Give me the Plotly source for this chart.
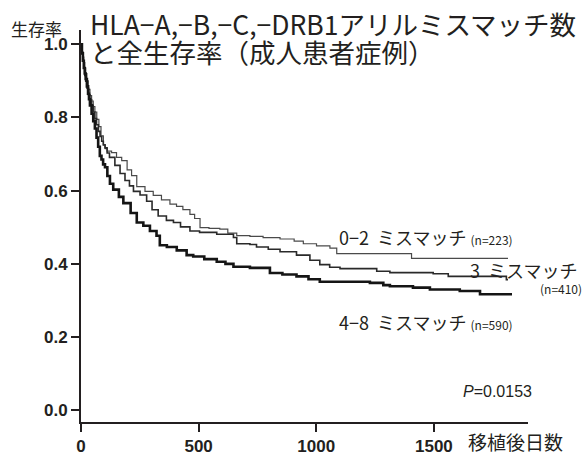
import plotly.graph_objects as go

# ---- data ----
days_02 = [0, 4, 8, 12, 16, 20, 25, 31, 38, 45, 52, 59, 67, 76, 85, 95, 103, 111, 130, 151, 173,
           196, 215, 237, 272, 307, 342, 378, 406, 433, 463, 483, 506, 544, 590, 624, 662, 718,
           774, 846, 906, 945, 1001, 1058, 1087, 1405, 1815]
surv_02 = [1.0, 0.98, 0.965, 0.95, 0.935, 0.92, 0.9, 0.877, 0.86, 0.845, 0.83, 0.815, 0.795, 0.775,
           0.75, 0.726, 0.715, 0.708, 0.704, 0.691, 0.682, 0.657, 0.641, 0.611, 0.598, 0.587, 0.575,
           0.563, 0.557, 0.548, 0.535, 0.524, 0.499, 0.497, 0.495, 0.484, 0.477, 0.475, 0.472,
           0.468, 0.462, 0.455, 0.449, 0.443, 0.428, 0.415, 0.415]

days_3 = [0, 4, 8, 12, 16, 20, 26, 32, 38, 45, 52, 59, 66, 74, 81, 88, 95, 102, 111, 121, 144,
          166, 187, 206, 223, 251, 279, 302, 328, 363, 393, 423, 463, 504, 577, 648, 662, 718,
          746, 796, 846, 916, 973, 1015, 1057, 1101, 1257, 1313, 1497, 1561, 1808, 1815]
surv_3 = [1.0, 0.975, 0.955, 0.935, 0.915, 0.899, 0.88, 0.862, 0.848, 0.833, 0.815, 0.797, 0.78,
          0.762, 0.748, 0.735, 0.725, 0.717, 0.703, 0.691, 0.669, 0.647, 0.628, 0.613, 0.598,
          0.588, 0.571, 0.548, 0.531, 0.519, 0.513, 0.501, 0.490, 0.486, 0.481, 0.472, 0.455,
          0.453, 0.446, 0.440, 0.433, 0.424, 0.410, 0.398, 0.391, 0.387, 0.380, 0.376, 0.373,
          0.366, 0.357, 0.357]

days_48 = [0, 4, 8, 12, 16, 20, 25, 30, 34, 38, 45, 52, 59, 66, 73, 80, 87, 94, 102, 112, 123,
           137, 161, 180, 211, 237, 265, 293, 321, 335, 365, 407, 449, 477, 524, 577, 614, 648,
           718, 803, 856, 916, 967, 1015, 1228, 1285, 1313, 1411, 1483, 1610, 1696, 1832]
surv_48 = [1.0, 0.975, 0.955, 0.935, 0.92, 0.905, 0.885, 0.865, 0.85, 0.833, 0.81, 0.79, 0.77,
           0.745, 0.72, 0.695, 0.685, 0.672, 0.664, 0.64, 0.619, 0.603, 0.583, 0.566, 0.539,
           0.513, 0.504, 0.490, 0.477, 0.451, 0.446, 0.437, 0.424, 0.420, 0.413, 0.406, 0.400,
           0.392, 0.389, 0.375, 0.371, 0.366, 0.358, 0.351, 0.348, 0.342, 0.339, 0.335, 0.330,
           0.326, 0.317, 0.317]

x_ticks = [0, 500, 1000, 1500]
y_ticks = [0.0, 0.2, 0.4, 0.6, 0.8, 1.0]
y_ticklabels = ["0.0", "0.2", "0.4", "0.6", "0.8", "1.0"]

title_line1 = "HLA−A,−B,−C,−DRB1アリルミスマッチ数"
title_line2 = "と全生存率（成人患者症例）"
y_title = "生存率"
x_title = "移植後日数"
labels = ["0−2\u00a0\u00a0ミスマッチ", "3\u00a0\u00a0ミスマッチ", "4−8\u00a0\u00a0ミスマッチ"]
n_labels = ["(n=223)", "(n=410)", "(n=590)"]
p_text = "<i>P</i>=0.0153"

# ---- figure ----
W, H = 585, 468
L, R, T, B = 81, 57, 30, 37
INK = "#231f20"
JP = "Noto Sans CJK JP"
LAT = "Liberation Sans, Arial, sans-serif"

def px(x):
    return (x - L) / (W - L - R)

def py(y):
    return 1 - (y - T) / (H - T - B)

fig = go.Figure()
fig.add_trace(go.Scatter(x=days_02, y=surv_02, mode="lines", line_shape="hv",
                         line=dict(color="#4a4a4a", width=1.2), showlegend=False))
fig.add_trace(go.Scatter(x=days_3, y=surv_3, mode="lines", line_shape="hv",
                         line=dict(color="#2a2a2a", width=1.6), showlegend=False))
fig.add_trace(go.Scatter(x=days_48, y=surv_48, mode="lines", line_shape="hv",
                         line=dict(color="#151515", width=2.6), showlegend=False))

fig.update_layout(
    width=W, height=H,
    margin=dict(l=L, r=R, t=T, b=B, pad=0),
    paper_bgcolor="white", plot_bgcolor="white",
    showlegend=False,
)
fig.update_xaxes(range=[0, 1900], tickvals=x_ticks, ticktext=[str(v) for v in x_ticks],
                 showgrid=False, zeroline=False, showline=True, linecolor=INK, linewidth=2,
                 ticks="outside", ticklen=8, tickwidth=1.5, tickcolor=INK,
                 tickfont=dict(family=LAT, size=17, color=INK, weight="bold"))
fig.update_yaxes(range=[-0.032, 1.039], tickvals=y_ticks, ticktext=y_ticklabels,
                 showgrid=False, zeroline=False, showline=True, linecolor=INK, linewidth=2,
                 ticks="outside", ticklen=8, tickwidth=1.5, tickcolor=INK,
                 tickfont=dict(family=LAT, size=17, color=INK, weight="bold"))

ann = []
def add(text, x, y, size, family=JP, xanchor="left"):
    ann.append(dict(text=text, x=px(x), y=py(y), xref="paper", yref="paper",
                    xanchor=xanchor, yanchor="middle", showarrow=False,
                    font=dict(family=family, size=size, color=INK)))

add(title_line1, 88, 23.5, 26.5)
add(title_line2, 88, 52, 26.5)
add(y_title, 9, 28, 17)
add(x_title, 466, 451, 19)
add(labels[0] + "\u00a0<span style='font-size:12px'>" + n_labels[0] + "</span>", 337, 242, 18)
add(labels[1], 580, 275, 18, xanchor="right")
add("<span style='font-size:12px'>" + n_labels[1] + "</span>", 584, 294, 12, xanchor="right")
add(labels[2] + "\u00a0<span style='font-size:12px'>" + n_labels[2] + "</span>", 337, 329, 18)
add(p_text, 461, 400, 16, family=LAT)
fig.update_layout(annotations=ann)

fig.write_html("out.html", config={"displayModeBar": False},
               post_script="document.body.style.margin='0';document.body.style.padding='0';")
